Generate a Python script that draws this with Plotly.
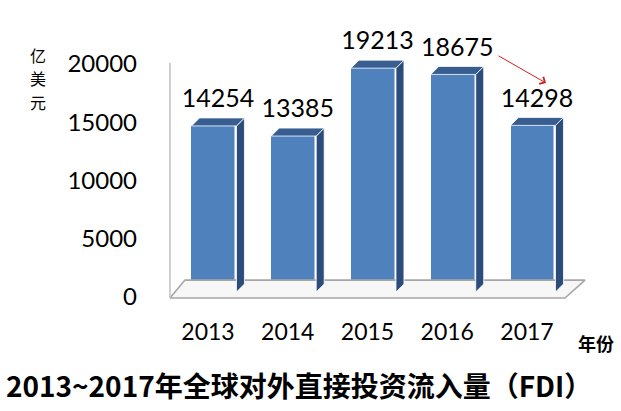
import plotly.graph_objects as go

# ---- data ----
years = ["2013", "2014", "2015", "2016", "2017"]
values = [14254, 13385, 19213, 18675, 14298]
y_ticks = [0, 5000, 10000, 15000, 20000]
y_ticktext = ["0", "5000", "10000", "15000", "20000"]
title_text = "2013~2017年全球对外直接投资流入量（FDI）"
y_title_chars = ["亿", "美", "元"]
x_title = "年份"

# ---- layout geometry ----
W_FIG, H_FIG = 621, 411
ML, MR, MT, MB = 143, 10, 40, 95
PW = W_FIG - ML - MR
PH = H_FIG - MT - MB
XR = [-0.890, 4.978]
YR = [-1631, 22060]

def pxx(px):
    return (px - ML) / PW

def pxy(py):
    return (H_FIG - MB - py) / PH

idx = list(range(len(years)))
BW = 0.564      # front face width
DX = 0.10       # 3D depth, x units
DY = 687        # 3D depth, y units
BASE = 430      # front face raised by perspective
LBL = 400       # label gap above bar top

FRONT = "#4F81BD"
SIDE = "#2C4D7C"
TOP = "#385E91"
EDGE = "#A6A6A6"

fig = go.Figure()

# floor
n = len(years)
fx0, fx1 = -0.552, n - 1 + 0.401
fbx0, fbx1 = -0.364, n - 1 + 0.652
fy0, fy1 = -86, 1450
fig.add_trace(go.Scatter(
    x=[fx0, fbx0, fbx1, fx1, fx0], y=[fy0, fy1, fy1, fy0, fy0],
    mode="lines", fill="toself", fillcolor="#F7F7F7",
    line=dict(color=EDGE, width=1.6), hoverinfo="skip", showlegend=False))
# left wall edge
fig.add_trace(go.Scatter(
    x=[fx0, fx0], y=[fy0, 20086], mode="lines",
    line=dict(color="#BFBFBF", width=1.5), hoverinfo="skip", showlegend=False))

# side and top faces
sx, sy, tx, ty = [], [], [], []
for i, v in zip(idx, values):
    xl, xr = i - BW / 2, i + BW / 2
    b, t = BASE, BASE + v
    sx += [xr, xr + DX, xr + DX, xr, xr, None]
    sy += [b, b + DY, t + DY, t, b, None]
    tx += [xl, xl + DX, xr + DX, xr, xl, None]
    ty += [t, t + DY, t + DY, t, t, None]
fig.add_trace(go.Scatter(x=sx, y=sy, mode="lines", fill="toself", fillcolor=SIDE,
                         line=dict(color="#FFFFFF", width=0.8), hoverinfo="skip", showlegend=False))
fig.add_trace(go.Scatter(x=tx, y=ty, mode="lines", fill="toself", fillcolor=TOP,
                         line=dict(color="#FFFFFF", width=0.8), hoverinfo="skip", showlegend=False))

# data labels
fig.add_trace(go.Scatter(
    x=[i + DX / 2 for i in idx], y=[BASE + v + DY + LBL for v in values],
    mode="text", text=[str(v) for v in values], textposition="top center",
    textfont=dict(family="Lato", size=25, color="#000000"),
    cliponaxis=False, hoverinfo="skip", showlegend=False))

# front faces
fig.add_trace(go.Bar(
    x=idx, y=values, base=BASE, width=BW,
    marker=dict(color=FRONT, line=dict(color="#FFFFFF", width=1.5)),
    hoverinfo="skip", showlegend=False))

annotations = []
for k, ch in enumerate(y_title_chars):
    annotations.append(dict(text=ch, xref="paper", yref="paper", x=pxx(38), y=pxy(55 + 23.5 * k),
                            showarrow=False, font=dict(family="Noto Sans CJK SC", size=16, color="#000000"),
                            xanchor="center", yanchor="middle"))
annotations += [
    dict(text="<b>" + x_title + "</b>", xref="paper", yref="paper", x=pxx(596), y=pxy(343),
         showarrow=False, font=dict(family="Noto Sans CJK SC", size=18, color="#000000"),
         xanchor="center", yanchor="middle"),
    dict(text="<b>" + title_text + "</b>", xref="paper", yref="paper", x=pxx(4), y=pxy(385),
         showarrow=False, font=dict(family="Noto Sans CJK SC", size=28, color="#000000"),
         xanchor="left", yanchor="middle"),
    dict(x=4 + 0.163, y=values[4] + 4071, xref="x", yref="y",
         ax=3 + 0.549, ay=values[3] + 2098, axref="x", ayref="y",
         text="", showarrow=True, arrowhead=4, arrowsize=1.6, arrowwidth=1,
         arrowcolor="#D02020"),
]

fig.update_layout(
    width=W_FIG, height=H_FIG,
    margin=dict(l=ML, r=MR, t=MT, b=MB),
    paper_bgcolor="#FFFFFF", plot_bgcolor="#FFFFFF",
    font=dict(family="Lato", color="#000000"),
    xaxis=dict(range=XR, tickvals=idx, ticktext=years, showgrid=False, zeroline=False,
               showline=False, ticks="", tickfont=dict(family="Lato", size=23, color="#000000"),
               ticklabelshift=-6, ticklabelstandoff=0, fixedrange=True),
    yaxis=dict(range=YR, tickvals=y_ticks, ticktext=y_ticktext, showgrid=False, zeroline=False,
               showline=False, ticks="", tickfont=dict(family="Lato", size=24, color="#000000"),
               ticklabelstandoff=5, fixedrange=True),
    bargap=0,
    annotations=annotations,
)

fig.write_html("out.html", post_script="document.body.style.margin='0';",
               config={"displayModeBar": False})
